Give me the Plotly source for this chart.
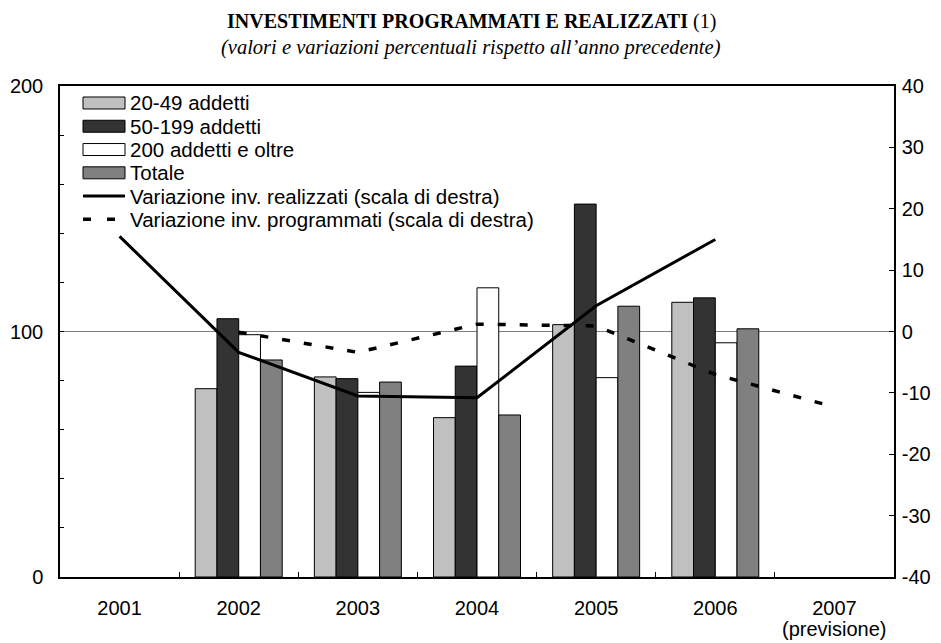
import plotly.graph_objects as go

years = ["2001", "2002", "2003", "2004", "2005", "2006", "2007"]
forecast_note = "(previsione)"   # sub-label under the last year

# bar values (left scale)
small = [None, 76.7, 81.5, 64.9, 102.8, 111.9, None]       # 20-49 addetti
medium = [None, 105.2, 80.8, 85.9, 151.9, 113.7, None]     # 50-199 addetti
large = [None, 98.7, 75.2, 117.8, 81.2, 95.4, None]        # 200 addetti e oltre
total = [None, 88.4, 79.4, 66.0, 110.3, 101.1, None]       # Totale

# percentage changes (right scale)
realizzati = [15.5, -3.4, -10.5, -10.8, 4.2, 15.0, None]
programmati = [None, -0.1, -3.4, 1.2, 0.9, -7.0, -12.3]

series_names = ["20-49 addetti", "50-199 addetti", "200 addetti e oltre", "Totale",
                "Variazione inv. realizzati (scala di destra)",
                "Variazione inv. programmati (scala di destra)"]
bar_colors = ["#C0C0C0", "#333333", "#FFFFFF", "#808080"]

left_ticks = list(range(0, 201, 20))
left_text = [str(v) if v % 100 == 0 else "" for v in left_ticks]
right_ticks = list(range(-40, 41, 10))
right_text = [str(v) for v in right_ticks]   # ASCII hyphen-minus as in the original

FONT = "Liberation Sans, Arial, sans-serif"
SERIF = "Liberation Serif, Times New Roman, serif"

# page geometry (the html body adds an 8px offset)
OFF = 8
PAGE_W, PAGE_H = 941, 643
W, H = PAGE_W - OFF, PAGE_H - OFF
PL, PR, PT, PB = 60, 894, 86, 577.5   # plot area in page pixels
ML, MT = PL - OFF, PT - OFF
MR, MB = W - (PR - OFF), H - (PB - OFF)
PW, PH = PR - PL, PB - PT


def px(x):
    return (x - PL) / PW


def py(y):
    return (PB - y) / PH


fig = go.Figure()
for name, vals, col in zip(series_names[:4], [small, medium, large, total], bar_colors):
    fig.add_trace(go.Bar(
        x=years, y=vals, name=name,
        marker=dict(color=col, line=dict(color="black", width=1)),
        yaxis="y",
    ))

fig.add_trace(go.Scatter(
    x=years, y=realizzati, name=series_names[4],
    mode="lines", line=dict(color="black", width=3), yaxis="y2",
))
fig.add_trace(go.Scatter(
    x=years, y=programmati, name=series_names[5],
    mode="lines", line=dict(color="black", width=3.5, dash="8px,14px"), yaxis="y2",
))

# custom legend (swatches + labels)
shapes = []
annotations = []
row_y = [103, 126.3, 149.6, 172.9, 196.2, 219.5]
sx0, sx1, tx = 83, 125, 127.5
for i, name in enumerate(series_names):
    yc = row_y[i]
    if i < 4:
        shapes.append(dict(type="rect", xref="paper", yref="paper",
                           x0=px(sx0), x1=px(sx1), y0=py(yc + 6), y1=py(yc - 6),
                           fillcolor=bar_colors[i], line=dict(color="black", width=1)))
    elif i == 4:
        shapes.append(dict(type="line", xref="paper", yref="paper",
                           x0=px(sx0), x1=px(sx1), y0=py(yc), y1=py(yc),
                           line=dict(color="black", width=3)))
    else:
        shapes.append(dict(type="line", xref="paper", yref="paper",
                           x0=px(sx0), x1=px(sx1), y0=py(yc), y1=py(yc),
                           line=dict(color="black", width=3.5, dash="8px,16px")))
    annotations.append(dict(text=name, x=px(tx), y=py(yc), xref="paper", yref="paper",
                            xanchor="left", yanchor="middle", showarrow=False,
                            font=dict(family=FONT, size=20.5, color="black")))

annotations.append(dict(text="<b>INVESTIMENTI PROGRAMMATI E REALIZZATI</b> (1)",
                        x=px(471), y=py(21), xref="paper", yref="paper",
                        xanchor="center", yanchor="middle", showarrow=False,
                        font=dict(family=SERIF, size=20, color="black")))
annotations.append(dict(text="<i>(valori e variazioni percentuali rispetto all\u2019anno precedente)</i>",
                        x=px(471), y=py(47), xref="paper", yref="paper",
                        xanchor="center", yanchor="middle", showarrow=False,
                        font=dict(family=SERIF, size=20.5, color="black")))
# sub-label under the last category (category index on the x axis)
annotations.append(dict(text=forecast_note, x=len(years) - 1, xref="x", y=py(630), yref="paper",
                        xanchor="center", yanchor="middle", showarrow=False,
                        font=dict(family=FONT, size=20, color="black")))

fig.update_layout(
    width=W, height=H,
    margin=dict(l=ML, r=MR, t=MT, b=MB, autoexpand=False),
    paper_bgcolor="white", plot_bgcolor="white",
    barmode="group", bargap=0.27, bargroupgap=0,
    font=dict(family=FONT, size=20, color="black"),
    showlegend=False,
    xaxis=dict(
        type="category", categoryorder="array", categoryarray=years,
        range=[-0.5, len(years) - 0.5], autorange=False,
        showline=True, linecolor="black", linewidth=1.5, mirror=True,
        ticks="inside", tickson="boundaries", ticklen=5, tickcolor="black",
        showgrid=False, zeroline=False, ticklabelstandoff=12, automargin=False,
        tickfont=dict(family=FONT, size=20),
    ),
    yaxis=dict(
        range=[0, 200], tickvals=left_ticks, ticktext=left_text,
        showline=True, linecolor="black", linewidth=1.5,
        ticks="inside", ticklen=4, tickcolor="black",
        showgrid=False, zeroline=False, ticklabelstandoff=11, automargin=False,
        tickfont=dict(family=FONT, size=20),
    ),
    yaxis2=dict(
        range=[-40, 40], tickvals=right_ticks, ticktext=right_text,
        overlaying="y", side="right",
        showline=True, linecolor="black", linewidth=1.5,
        ticks="inside", ticklen=5, tickcolor="black",
        showgrid=False, zeroline=True, zerolinecolor="#808080", zerolinewidth=1.2,
        ticklabelstandoff=2, automargin=False,
        tickfont=dict(family=FONT, size=20),
    ),
    shapes=shapes,
    annotations=annotations,
)

fig.write_html("out.html")
